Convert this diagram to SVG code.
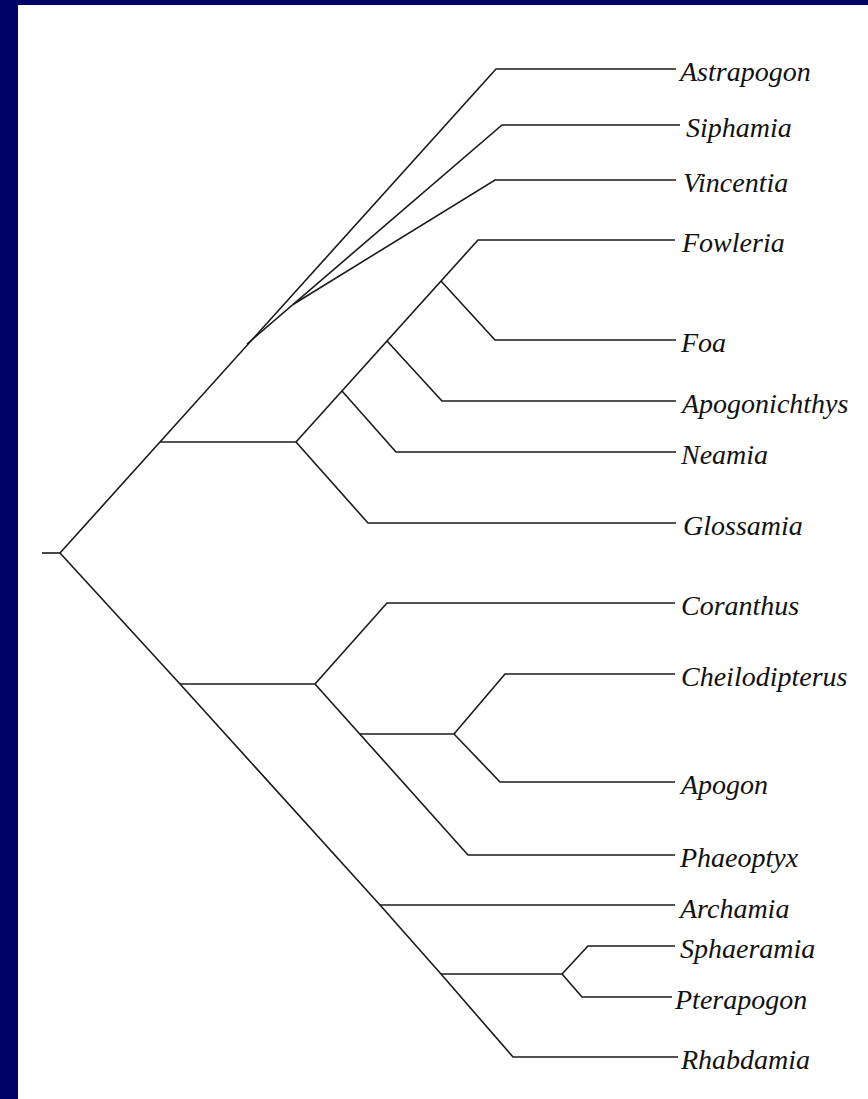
<svg xmlns="http://www.w3.org/2000/svg" width="868" height="1099" viewBox="0 0 868 1099">
<style>
.br{fill:none;stroke:#1a1a1a;stroke-width:1.6;stroke-linejoin:miter}
.lb{font-family:"Liberation Serif","Times New Roman",serif;font-style:italic;font-size:28px;fill:#111}
</style>
<rect x="0" y="0" width="868" height="1099" fill="#ffffff"/>
<rect x="0" y="0" width="868" height="5" fill="#000066"/>
<rect x="0" y="0" width="18" height="1099" fill="#000066"/>
<g id="connectors">
<path class="br" d="M42,553 H60"/>
<path class="br" d="M60,553 L496,69 H676"/>
<path class="br" d="M247,344 L502,125 H680"/>
<path class="br" d="M293,304.5 L495,180 H676"/>
<path class="br" d="M160,442 H296"/>
<path class="br" d="M296,442 L478,240 H675"/>
<path class="br" d="M441,281 L495,340 H676"/>
<path class="br" d="M387,341 L442,401 H676"/>
<path class="br" d="M342,391 L396,452 H676"/>
<path class="br" d="M296,442 L368,523 H676"/>
<path class="br" d="M60,553 L180,684 L380,905 L441,974 L513,1057 H678"/>
<path class="br" d="M180,684 H315"/>
<path class="br" d="M315,684 L387,603 H675"/>
<path class="br" d="M315,684 L468,855 H675"/>
<path class="br" d="M360,734 H454"/>
<path class="br" d="M454,734 L505,674 H675"/>
<path class="br" d="M454,734 L500,782 H675"/>
<path class="br" d="M380,905 H675"/>
<path class="br" d="M441,974 H562"/>
<path class="br" d="M562,974 L588,946 H675"/>
<path class="br" d="M562,974 L582,997 H672"/>
</g>
<g id="astrapogon"><text class="lb" x="680" y="81">Astrapogon</text></g>
<g id="siphamia"><text class="lb" x="686" y="137">Siphamia</text></g>
<g id="vincentia"><text class="lb" x="683" y="192">Vincentia</text></g>
<g id="fowleria"><text class="lb" x="682" y="252">Fowleria</text></g>
<g id="foa"><text class="lb" x="681" y="352">Foa</text></g>
<g id="apogonichthys"><text class="lb" x="682" y="413">Apogonichthys</text></g>
<g id="neamia"><text class="lb" x="681" y="464">Neamia</text></g>
<g id="glossamia"><text class="lb" x="683" y="535">Glossamia</text></g>
<g id="coranthus"><text class="lb" x="681" y="615">Coranthus</text></g>
<g id="cheilodipterus"><text class="lb" x="681" y="686">Cheilodipterus</text></g>
<g id="apogon"><text class="lb" x="681" y="794">Apogon</text></g>
<g id="phaeoptyx"><text class="lb" x="680" y="867">Phaeoptyx</text></g>
<g id="archamia"><text class="lb" x="680" y="918">Archamia</text></g>
<g id="sphaeramia"><text class="lb" x="680" y="958">Sphaeramia</text></g>
<g id="pterapogon"><text class="lb" x="675" y="1009">Pterapogon</text></g>
<g id="rhabdamia"><text class="lb" x="681" y="1069">Rhabdamia</text></g>
</svg>
